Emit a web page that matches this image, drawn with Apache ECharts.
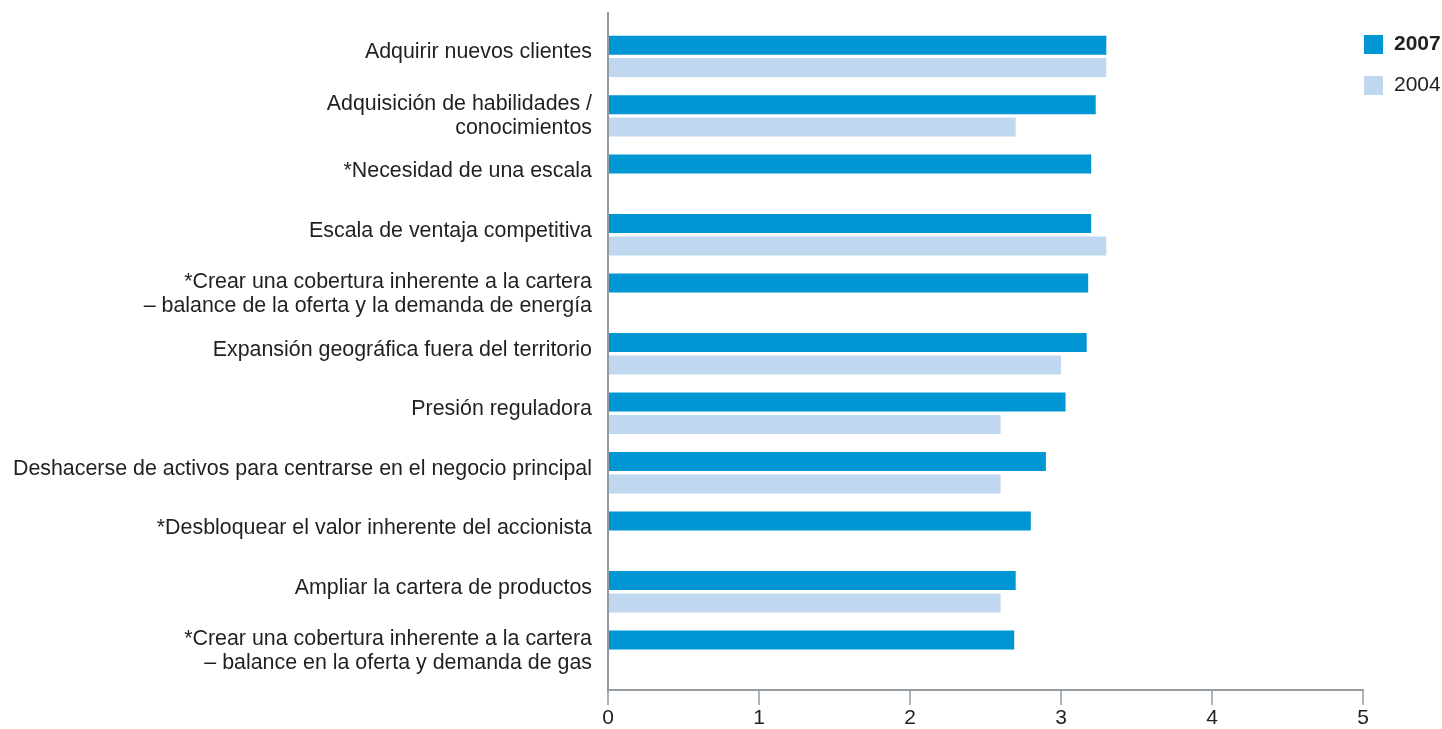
<!DOCTYPE html>
<html>
<head>
<meta charset="utf-8">
<script src="https://cdn.jsdelivr.net/npm/echarts@6/dist/echarts.min.js"></script>
<style>
  html, body { margin: 0; padding: 0; background: #fff; }
  #chart { width: 1442px; height: 729px; }
</style>
</head>
<body>
<div id="chart"></div>
<script>
// Motivos de las fusiones y adquisiciones, puntuación media (escala 0–5)
const categories = [
  'Adquirir nuevos clientes',
  'Adquisición de habilidades /\nconocimientos',
  '*Necesidad de una escala',
  'Escala de ventaja competitiva',
  '*Crear una cobertura inherente a la cartera\n– balance de la oferta y la demanda de energía',
  'Expansión geográfica fuera del territorio',
  'Presión reguladora',
  'Deshacerse de activos para centrarse en el negocio principal',
  '*Desbloquear el valor inherente del accionista',
  'Ampliar la cartera de productos',
  '*Crear una cobertura inherente a la cartera\n– balance en la oferta y demanda de gas'
];
const values2007 = [3.30, 3.23, 3.20, 3.20, 3.18, 3.17, 3.03, 2.90, 2.80, 2.70, 2.69];
const values2004 = [3.30, 2.70, null, 3.30, null, 3.00, 2.60, 2.60, null, 2.60, null];
const xTicks = [0, 1, 2, 3, 4, 5];

const COLOR_2007 = '#0095d3';
const COLOR_2004 = '#c0d7f0';
const TEXT = '#231f20';
const AXIS = '#959ca1';
const FONT = 'Liberation Sans, Arial, sans-serif';

const gridLeft = 608, gridTop = 26.6, gridBottomY = 684.4, gridRight = 79;

const chart = echarts.init(document.getElementById('chart'), null, { renderer: 'canvas' });

chart.setOption({
  animation: false,
  textStyle: { fontFamily: FONT },
  grid: {
    left: gridLeft,
    top: gridTop,
    right: gridRight,
    height: gridBottomY - gridTop,
    containLabel: false
  },
  legend: {
    orient: 'vertical',
    left: 1364,
    top: 34,
    padding: 0,
    itemWidth: 19,
    itemHeight: 19,
    itemGap: 20,
    icon: 'rect',
    data: ['2007', '2004'],
    formatter: name => name === '2007' ? '{b|' + name + '}' : '{n|' + name + '}',
    textStyle: {
      rich: {
        b: { fontSize: 21, fontWeight: 'bold', color: TEXT, padding: [0, 0, 0, 6], fontFamily: FONT },
        n: { fontSize: 21, color: TEXT, padding: [0, 0, 0, 6], fontFamily: FONT }
      }
    }
  },
  xAxis: {
    type: 'value',
    min: xTicks[0],
    max: xTicks[xTicks.length - 1],
    interval: 1,
    offset: 9,
    axisLine: { show: true, lineStyle: { color: AXIS, width: 2 } },
    axisTick: { show: true, length: 15, lineStyle: { color: AXIS, width: 1.5 } },
    axisLabel: { color: TEXT, fontSize: 21, margin: 18 },
    splitLine: { show: false }
  },
  yAxis: {
    type: 'category',
    data: categories,
    inverse: true,
    axisLine: { show: false },
    axisTick: { show: false },
    axisLabel: {
      color: TEXT,
      fontSize: 21.4,
      lineHeight: 24,
      margin: 16,
      align: 'right',
      // single-line labels sit a little above the middle of their row
      formatter: v => v.indexOf('\n') >= 0 ? v : '{s|' + v + '}',
      rich: {
        s: { fontSize: 21.4, color: TEXT, fontFamily: FONT, padding: [0, 0, 8, 0] }
      }
    }
  },
  series: [
    {
      name: '2007',
      type: 'bar',
      data: values2007,
      barWidth: 19,
      barGap: '18%',
      itemStyle: { color: COLOR_2007 }
    },
    {
      name: '2004',
      type: 'bar',
      data: values2004,
      barWidth: 19,
      itemStyle: { color: COLOR_2004 }
    }
  ],
  graphic: [
    {
      type: 'line',
      shape: { x1: gridLeft, y1: 12, x2: gridLeft, y2: 693 },
      style: { stroke: AXIS, lineWidth: 2 },
      z: 10
    }
  ]
});
</script>
</body>
</html>
